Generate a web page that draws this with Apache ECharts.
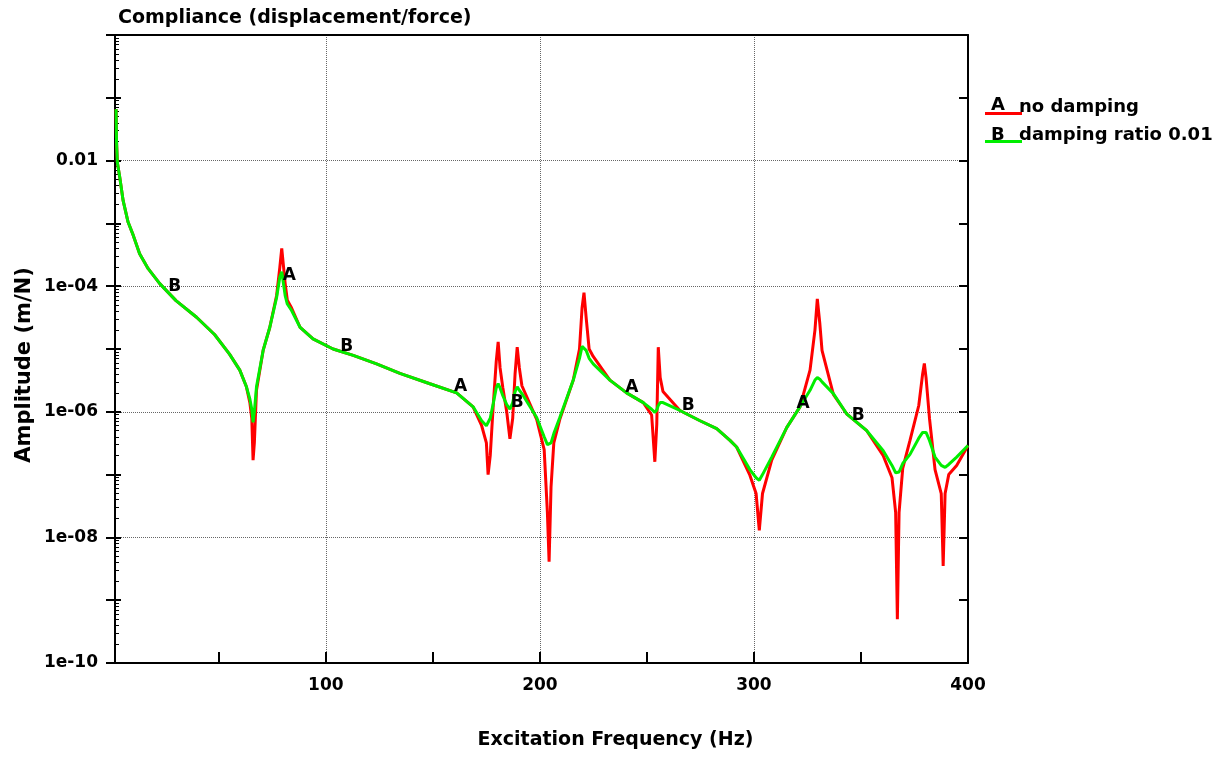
<!DOCTYPE html>
<html lang="en">
<head>
<meta charset="utf-8">
<title>Compliance (displacement/force)</title>
<script src="https://cdn.jsdelivr.net/npm/echarts@6.0.0/dist/echarts.min.js"></script>
<style>
  html, body { margin: 0; height: 100%; background: #fff; }
  #main { width: 1222px; height: 757px; }
</style>
</head>
<body>
<div id="main"></div>
<script>
// frequency (Hz) and compliance amplitude (m/N)
var freq = [2.0, 2.2, 2.6, 3.7, 5.3, 7.6, 10, 13, 17, 22.4,
  30, 39.6, 48, 55, 59.8, 62.9, 64.5, 65.4, 66.0, 66.6,
  67.6, 70.7, 73.8, 77, 78.5, 79.4, 80.3, 81.0, 82.0, 84,
  88, 94, 103.4, 112.8, 123.7, 134.6, 148.6, 161.1, 168.8, 172.8,
  175.0, 175.8, 176.8, 178.2, 179.6, 180.5, 181.4, 182.7, 184.5, 186.0,
  187.3, 188.4, 189.4, 190.4, 191.6, 198.5, 202, 203.5, 204.3, 205.2,
  206.5, 209.3, 215.6, 218.5, 219.7, 220.6, 221.6, 223, 224.9, 232.7,
  240.5, 248.3, 252.2, 253.7, 254.6, 255.3, 256.2, 257.5, 265.4, 274.8,
  282.6, 288.8, 291.9, 298.1, 301.0, 302.5, 304.0, 308.3, 315.3, 321.5,
  326.2, 328.5, 329.6, 330.8, 331.8, 337.1, 343.3, 352.7, 360.4, 364.5,
  366.2, 367.0, 367.8, 369.5, 372.9, 377, 378.8, 379.6, 380.4, 382,
  384.6, 387.5, 388.4, 389.3, 391.0, 394.7, 400];

var ampNoDamping = [0.066, 0.021, 0.0093, 0.0055, 0.0023, 0.00105, 6.5e-4, 3.3e-4, 1.9e-4, 1.1e-4,
  5.9e-5, 3.2e-5, 1.7e-5, 8.3e-6, 4.6e-6, 2.5e-6, 1.4e-6, 7.9e-7, 1.7e-7, 3.2e-7,
  2.2e-6, 9.5e-6, 2.2e-5, 7.1e-5, 2.0e-4, 4.0e-4, 3.8e-4, 1.1e-4, 6.0e-5, 4.5e-5,
  2.2e-5, 1.45e-5, 1.0e-5, 7.9e-6, 5.8e-6, 4.1e-6, 2.8e-6, 2.0e-6, 1.2e-6, 6.0e-7,
  3.2e-7, 1.0e-7, 2.0e-7, 1.26e-6, 6.3e-6, 1.3e-5, 5.0e-6, 2.4e-6, 1.0e-6, 3.7e-7,
  7.9e-7, 4.0e-6, 1.07e-5, 5.0e-6, 2.6e-6, 7.6e-7, 2.5e-7, 2.5e-8, 4.1e-9, 6.3e-8,
  3.2e-7, 7.6e-7, 3.2e-6, 1.0e-5, 4.5e-5, 7.9e-5, 3.2e-5, 1.0e-5, 7.6e-6, 3.2e-6,
  2.0e-6, 1.4e-6, 8.9e-7, 1.6e-7, 6.3e-7, 1.07e-5, 3.5e-6, 2.1e-6, 1.05e-6, 7.2e-7,
  5.4e-7, 3.5e-7, 2.75e-7, 9.8e-8, 5.0e-8, 1.3e-8, 5.0e-8, 1.7e-7, 5.6e-7, 1.2e-6,
  4.6e-6, 2.0e-5, 6.3e-5, 2.5e-5, 9.5e-6, 1.9e-6, 9.3e-7, 5.0e-7, 2.0e-7, 8.9e-8,
  2.5e-8, 5.0e-10, 2.5e-8, 1.26e-7, 3.5e-7, 1.26e-6, 4.0e-6, 5.9e-6, 3.5e-6, 7.9e-7,
  1.2e-7, 5.0e-8, 3.5e-9, 5.0e-8, 1.0e-7, 1.4e-7, 2.9e-7];

var ampDamping = [0.066, 0.021, 0.0093, 0.0055, 0.0023, 0.00105, 6.5e-4, 3.3e-4, 1.9e-4, 1.1e-4,
  5.9e-5, 3.2e-5, 1.7e-5, 8.3e-6, 4.6e-6, 2.5e-6, 1.6e-6, 1.1e-6, 6.8e-7, 1.0e-6,
  2.5e-6, 9.5e-6, 2.2e-5, 6.6e-5, 1.4e-4, 1.7e-4, 1.6e-4, 7.1e-5, 5.2e-5, 4.1e-5,
  2.2e-5, 1.45e-5, 1.0e-5, 7.9e-6, 5.8e-6, 4.1e-6, 2.8e-6, 2.0e-6, 1.2e-6, 7.2e-7,
  6.0e-7, 5.6e-7, 7.9e-7, 1.35e-6, 2.4e-6, 2.8e-6, 2.4e-6, 1.8e-6, 1.3e-6, 1.1e-6,
  1.4e-6, 2.1e-6, 2.5e-6, 2.2e-6, 1.95e-6, 8.1e-7, 4.0e-7, 3.0e-7, 2.8e-7, 3.2e-7,
  4.5e-7, 8.1e-7, 3.2e-6, 7.1e-6, 1.1e-5, 1.15e-5, 9.5e-6, 7.1e-6, 5.8e-6, 3.2e-6,
  2.0e-6, 1.4e-6, 1.1e-6, 9.8e-7, 1.07e-6, 1.26e-6, 1.4e-6, 1.4e-6, 1.05e-6, 7.2e-7,
  5.4e-7, 3.5e-7, 2.75e-7, 1.2e-7, 8.9e-8, 8.1e-8, 1.0e-7, 1.9e-7, 5.6e-7, 1.2e-6,
  2.2e-6, 3.2e-6, 3.5e-6, 3.3e-6, 3.0e-6, 1.95e-6, 9.3e-7, 5.0e-7, 2.4e-7, 1.4e-7,
  1.07e-7, 1.0e-7, 1.1e-7, 1.5e-7, 2.1e-7, 3.8e-7, 4.7e-7, 4.9e-7, 4.7e-7, 3.5e-7,
  1.9e-7, 1.4e-7, 1.35e-7, 1.3e-7, 1.45e-7, 1.9e-7, 2.9e-7];

var seriesNames = ['no damping', 'damping ratio 0.01'];
var seriesTags = ['A', 'B'];
var seriesColors = ['#ff0000', '#00ee00'];

// curve tag letters (where A / B sit on the plot)
var tagAFreq = [83, 163, 243, 323];
var tagAAmp = [1.5e-4, 2.5e-6, 2.45e-6, 1.35e-6];
var tagBFreq = [29.4, 109.7, 189.4, 269.3, 348.7];
var tagBAmp = [1.0e-4, 1.1e-5, 1.4e-6, 1.26e-6, 8.7e-7];

var xTicks = [50, 100, 150, 200, 250, 300, 350, 400];
var xLabels = [100, 200, 300, 400];
var xGrid = [100, 200, 300];
var minorFactors = [2, 3, 4, 5, 6, 7, 8, 9];

var FONT = 'DejaVu Sans';
var chart = echarts.init(document.getElementById('main'));

// decade exponents for the helper axes, log-spaced minor ticks inside each decade
var minorTicks = [];
for (var e = -10; e < 0; e++) {
  minorFactors.forEach(function (k) { minorTicks.push(e + Math.log10(k)); });
}

function pairs(xs, ys) {
  return xs.map(function (x, i) { return [x, ys[i]]; });
}

function tagPoints(fs, amps) {
  return fs.map(function (f, i) { return { coord: [f, amps[i]] }; });
}

function expLabel(v) {
  var e = Math.round(v);
  if (e >= 0 || e % 2 !== 0) return '';
  if (e === -2) return '0.01';
  var n = -e;
  return '1e-' + (n < 10 ? '0' + n : n);
}

var blackLine = { show: true, onZero: false, lineStyle: { color: '#000', width: 2 } };
var noLine = { show: false, onZero: false };
var gridLine = { show: true, lineStyle: { color: '#666', width: 1, type: 'dotted' } };

function lineSeries(i, amps, tf, ta) {
  return {
    name: seriesNames[i],
    type: 'line',
    xAxisIndex: 0,
    yAxisIndex: 0,
    data: pairs(freq, amps),
    showSymbol: false,
    symbol: 'none',
    color: seriesColors[i],
    lineStyle: { color: seriesColors[i], width: 3 },
    z: 3 + i,
    markPoint: {
      symbol: 'circle',
      symbolSize: 0,
      itemStyle: { color: 'transparent' },
      label: { show: true, position: 'inside', formatter: seriesTags[i],
        fontFamily: FONT, fontWeight: 'bold', fontSize: 17, color: '#000' },
      data: tagPoints(tf, ta)
    }
  };
}

function expAxis(extra) {
  var a = {
    type: 'value', min: -10, max: 0, position: 'left',
    axisLine: noLine, axisTick: { show: false }, axisLabel: { show: false },
    splitLine: { show: false }
  };
  for (var k in extra) a[k] = extra[k];
  return a;
}

chart.setOption({
  animation: false,
  backgroundColor: '#fff',
  title: {
    text: 'Compliance (displacement/force)',
    left: 113, top: 4,
    textStyle: { fontFamily: FONT, fontWeight: 'bold', fontSize: 19, color: '#000' }
  },
  legend: {
    orient: 'vertical',
    left: 980, top: 92,
    itemWidth: 37, itemHeight: 20, itemGap: 8,
    icon: 'path://M0,0M0,20M0,15L37,15L37,18L0,18Z',
    data: seriesNames,
    selectedMode: false,
    textStyle: { fontFamily: FONT, fontWeight: 'bold', fontSize: 18, color: '#000',
      padding: [0, 0, 0, -8] }
  },
  graphic: [
    { type: 'text', left: 991, top: 96, z: 10,
      style: { text: seriesTags[0], font: 'bold 18px "DejaVu Sans"', fill: '#000' } },
    { type: 'text', left: 991, top: 126, z: 10,
      style: { text: seriesTags[1], font: 'bold 18px "DejaVu Sans"', fill: '#000' } }
  ],
  grid: { left: 115, right: 254, top: 35, bottom: 94 },
  xAxis: [
    {
      type: 'value', min: 1.5, max: 400, position: 'bottom',
      name: 'Excitation Frequency (Hz)', nameLocation: 'middle', nameGap: 68,
      nameTextStyle: { fontFamily: FONT, fontWeight: 'bold', fontSize: 19, color: '#000',
        padding: [0, 0, 0, 148] },
      axisLine: blackLine,
      axisTick: { show: true, inside: true, length: 11, customValues: xTicks,
        lineStyle: { color: '#000', width: 2 } },
      axisLabel: { show: true, customValues: xLabels, margin: 14, fontSize: 17,
        fontFamily: FONT, fontWeight: 'bold', color: '#000' },
      splitLine: { show: false }
    },
    {
      type: 'value', min: 1.5, max: 400, position: 'bottom',
      axisLine: noLine,
      axisTick: { show: false, customValues: xGrid },
      axisLabel: { show: false, customValues: xGrid },
      splitLine: gridLine
    },
    {
      type: 'value', min: 1.5, max: 400, position: 'top',
      axisLine: blackLine,
      axisTick: { show: false }, axisLabel: { show: false }, splitLine: { show: false }
    }
  ],
  yAxis: [
    {
      type: 'log', logBase: 10, min: 1e-10, max: 1, position: 'left',
      name: 'Amplitude (m/N)', nameLocation: 'middle', nameGap: 80, nameRotate: 90,
      nameTextStyle: { fontFamily: FONT, fontWeight: 'bold', fontSize: 21, color: '#000',
        padding: [0, 32, 0, 0] },
      axisLine: blackLine,
      axisTick: { show: false }, axisLabel: { show: false },
      splitLine: { show: false }, minorTick: { show: false }
    },
    // decade ticks outside, with labels
    expAxis({
      interval: 1,
      axisTick: { show: true, inside: false, length: 9, lineStyle: { color: '#000', width: 2 } },
      axisLabel: { show: true, formatter: expLabel, margin: 17, fontSize: 17,
        fontFamily: FONT, fontWeight: 'bold', color: '#000' }
    }),
    // decade ticks inside
    expAxis({
      interval: 1,
      axisTick: { show: true, inside: true, length: 6, lineStyle: { color: '#000', width: 2 } }
    }),
    // minor ticks
    expAxis({
      axisTick: { show: true, inside: true, length: 4, customValues: minorTicks,
        lineStyle: { color: '#000', width: 1 } },
      axisLabel: { show: false, customValues: minorTicks }
    }),
    // grid lines every two decades
    expAxis({ interval: 2, splitLine: gridLine }),
    // right frame
    expAxis({
      interval: 1, position: 'right',
      axisLine: blackLine,
      axisTick: { show: true, inside: true, length: 9, lineStyle: { color: '#000', width: 2 } }
    })
  ],
  series: [
    lineSeries(0, ampNoDamping, tagAFreq, tagAAmp),
    lineSeries(1, ampDamping, tagBFreq, tagBAmp)
  ]
});
</script>
</body>
</html>
